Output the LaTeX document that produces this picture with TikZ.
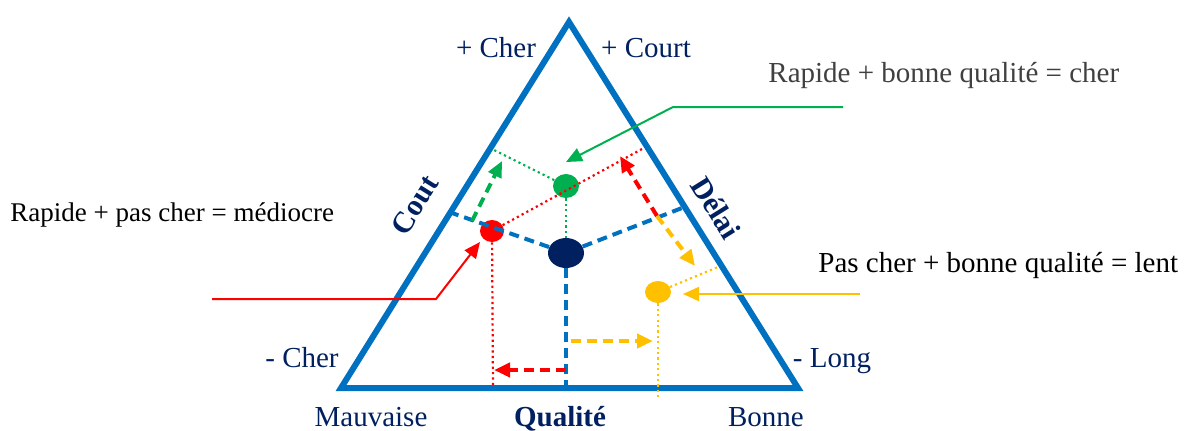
\documentclass[tikz,border=0pt]{standalone}
\usepackage{fontspec}
\setmainfont{Liberation Serif}
\usetikzlibrary{arrows.meta,shapes.geometric}
\definecolor{tblue}{HTML}{0070C0}
\definecolor{navy}{HTML}{002060}
\definecolor{tgreen}{HTML}{00B050}
\definecolor{tred}{HTML}{FF0000}
\definecolor{tyellow}{HTML}{FFC000}
\definecolor{tgray}{HTML}{404040}
\tikzset{
  lbl/.style={text=navy,font=\fontsize{14.5}{16}\selectfont,inner sep=0pt,anchor=base},
  captext/.style={font=\fontsize{14.5}{16}\selectfont,inner sep=0pt,anchor=base west},
  axis/.style={text=navy,font=\bfseries\fontsize{15}{17}\selectfont,inner sep=0pt},
  dot/.style={ellipse,inner sep=0pt,draw=none},
  bdash/.style={tblue,line width=2pt,dash pattern=on 5pt off 3pt},
  dotl/.style={line width=1.1pt,dash pattern=on 1.1pt off 1.6pt},
  darr/.style={line width=2pt,dash pattern=on 5pt off 3pt,-{Triangle[length=8pt,width=7pt]}},
  sarr/.style={line width=1pt,-{Triangle[length=8pt,width=7pt]}},
}
\begin{document}
\begin{tikzpicture}[x=0.5pt,y=-0.5pt]
\useasboundingbox (0,0) rectangle (1184,430);
% triangle
\coordinate (A) at (569,22);
\coordinate (L) at (341,388);
\coordinate (R) at (798,388);
\draw[tblue,line width=3pt,line join=miter] (A) -- (R) -- (L) -- cycle;
% points on edges
\coordinate (el) at (452,213);
\coordinate (er) at (682,208);
\coordinate (eb) at (566,388);
\coordinate (gl) at (492,149);
\coordinate (rr) at (642,149);
\coordinate (yr) at (718,267);
\coordinate (rb) at (493,388);
\coordinate (yb) at (658,397);
% dots
\node[dot,fill=navy,minimum width=18pt,minimum height=15pt] (c) at (566,253) {};
\node[dot,fill=tgreen,minimum width=13pt,minimum height=12pt] (g) at (566,186) {};
\node[dot,fill=tred,minimum width=12pt,minimum height=11pt] (r) at (492,231) {};
\node[dot,fill=tyellow,minimum width=13pt,minimum height=11pt] (y) at (658,292) {};
% blue dashed
\draw[bdash] (c) -- (el);
\draw[bdash] (c) -- (er);
\draw[bdash] (c) -- (eb);
% dotted
\draw[tgreen,dotl] (g) -- (gl);
\draw[tgreen,dotl] (g) -- (c);
\draw[tred,dotl] (r) -- (rr);
\draw[tred,dotl] (r) -- (rb);
\draw[tyellow,dotl] (y) -- (yr);
\draw[tyellow,dotl] (y) -- (yb);
% dashed arrows
\coordinate (ga0) at (472,221);
\coordinate (ga1) at (502,161);
\draw[tgreen,darr] (ga0) -- (ga1);
\coordinate (ra0) at (657,216);
\coordinate (ra1) at (620,156);
\draw[tred,darr] (ra0) -- (ra1);
\coordinate (ya1) at (695,266);
\draw[tyellow,darr] (ra0) -- (ya1);
\coordinate (yh0) at (571,341);
\coordinate (yh1) at (653,341);
\draw[tyellow,darr] (yh0) -- (yh1);
\coordinate (rh0) at (566,370);
\coordinate (rh1) at (494,370);
\draw[tred,darr] (rh0) -- (rh1);
% callouts
\coordinate (gc0) at (843,107);
\coordinate (gc1) at (673,107);
\coordinate (gc2) at (566,162);
\draw[tgreen,sarr] (gc0) -- (gc1) -- (gc2);
\coordinate (rc0) at (212,299);
\coordinate (rc1) at (436,299);
\coordinate (rc2) at (480,242);
\draw[tred,sarr] (rc0) -- (rc1) -- (rc2);
\coordinate (yc0) at (860,294);
\coordinate (yc1) at (683,294);
\draw[tyellow,sarr] (yc0) -- (yc1);
% labels
\node[lbl] (pc) at (496,57) {+ Cher};
\node[lbl] (pco) at (646,57) {+ Court};
\node[lbl] (mc) at (302,367) {- Cher};
\node[lbl] (ml) at (832,367) {- Long};
\node[lbl] (mv) at (371,426) {Mauvaise};
\node[lbl,font=\bfseries\fontsize{14.5}{16}\selectfont] (q) at (560,426) {Qualité};
\node[lbl] (bo) at (766,426) {Bonne};
\node[axis,rotate=58] (co) at (415,205) {Cout};
\node[axis,rotate=-58] (de) at (716,208) {Délai};
\node[captext,text=tgray] (t1) at (768,82) {Rapide + bonne qualité = cher};
\node[captext,font=\fontsize{13.5}{15}\selectfont] (t2) at (10,221) {Rapide + pas cher = médiocre};
\node[captext] (t3) at (818,272) {Pas cher + bonne qualité = lent};
\end{tikzpicture}
\end{document}
